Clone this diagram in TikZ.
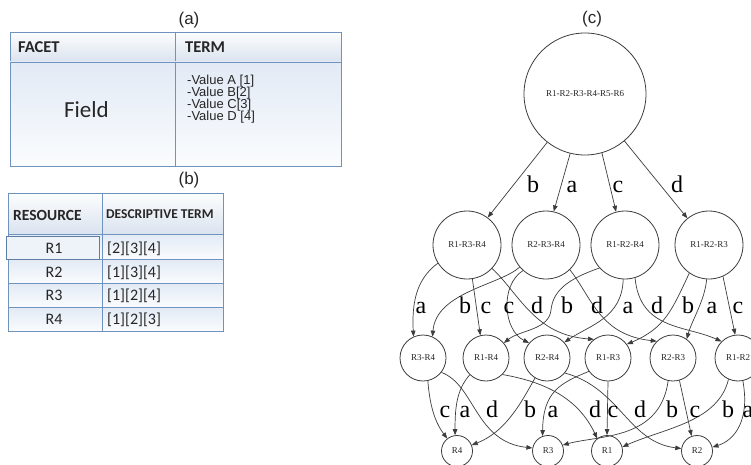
\documentclass[tikz,border=0pt]{standalone}
\usepackage{fontspec}
\setmainfont{Carlito}
\newfontfamily\graphfont{Liberation Serif}
\newfontfamily\listfont{Liberation Sans}
\usetikzlibrary{arrows.meta}
\definecolor{gridblue}{RGB}{112,146,190}
\definecolor{headtop}{RGB}{252,253,254}
\definecolor{headbot}{RGB}{218,227,239}
\definecolor{celltop}{RGB}{226,234,245}
\definecolor{cellbot}{RGB}{250,252,254}
\definecolor{ink}{RGB}{38,38,38}
\definecolor{edgegray}{RGB}{60,60,60}
\begin{document}
\begin{tikzpicture}[x=1pt,y=-1pt,
  stage/.style={circle,draw=edgegray,line width=0.8pt,inner sep=0pt,
    font=\graphfont\fontsize{9}{10}\selectfont,text=ink},
  circbig/.style={stage,minimum size=122pt},
  circmid/.style={stage,minimum size=68pt},
  circsmall/.style={stage,minimum size=46pt},
  circtiny/.style={stage,minimum size=31pt},
  link/.style={draw=edgegray,line width=0.7pt,-{Triangle[length=6pt,width=4.5pt]}},
  tag/.style={font=\graphfont\fontsize{24}{24}\selectfont,text=black,anchor=base,inner sep=0pt},
  caption/.style={font=\listfont\fontsize{17}{17}\selectfont,text=ink,inner sep=0pt},
  headcell/.style={draw=gridblue,line width=0.8pt,top color=headtop,bottom color=headbot},
  bodycell/.style={draw=gridblue,line width=0.8pt,top color=celltop,bottom color=cellbot},
  headtext/.style={font=\bfseries\fontsize{16.5}{18}\selectfont,text=ink,anchor=base west,inner sep=0pt},
  rowtext/.style={font=\fontsize{16}{18}\selectfont,text=ink,anchor=base,inner sep=0pt},
  valtext/.style={font=\listfont\fontsize{13}{13}\selectfont,text=ink,anchor=base west,inner sep=0pt},
]
\useasboundingbox (0,0) rectangle (751,465);
\fill[white] (0,0) rectangle (751,465);

% ---------- (a) facet table ----------
\node[caption] (capA) at (189,20) {(a)};
\path[headcell] (10,32) rectangle (175,62);
\path[headcell] (175,32) rectangle (341,62);
\path[bodycell] (10,62) rectangle (175,166);
\path[bodycell] (175,62) rectangle (341,166);
\node[headtext] (facet) at (18,53) {FACET};
\node[headtext] (term) at (185,53) {TERM};
\node[font=\fontsize{23}{24}\selectfont,text=ink,anchor=base,inner sep=0pt] (field) at (86.5,118) {Field};
\node[valtext] (valA) at (187,84.5) {-Value A [1]};
\node[valtext] (valB) at (187,96.5) {-Value B[2]};
\node[valtext] (valC) at (187,108.5) {-Value C[3]};
\node[valtext] (valD) at (187,121) {-Value D [4]};

% ---------- (b) resource table ----------
\node[caption] (capB) at (189,180) {(b)};
\path[headcell] (8,193) rectangle (102,234);
\path[headcell] (102,193) rectangle (223,234);
\foreach \top/\bot in {234/259,259/283,283/307,307/331}{
  \path[bodycell] (8,\top) rectangle (102,\bot);
  \path[bodycell] (102,\top) rectangle (223,\bot);
}
\draw[draw=gridblue!85!black,line width=0.9pt,fill=celltop!60!white] (6,236) rectangle (99,259);
\node[headtext,font=\bfseries\fontsize{15.5}{17}\selectfont] (resource) at (13,220) {RESOURCE};
\node[headtext,font=\bfseries\fontsize{13.5}{15}\selectfont] (descr) at (106,218.5) {DESCRIPTIVE TERM};
\foreach \r/\t/\b in {R1/{[2][3][4]}/253,R2/{[1][3][4]}/277,R3/{[1][2][4]}/300,R4/{[1][2][3]}/324}{
  \node[rowtext] at (54,\b) {\r};
  \node[rowtext,anchor=base west] at (107,\b) {\t};
}

% ---------- (c) lattice ----------
\node[caption] (capC) at (592,19) {(c)};
\node[circbig] (top) at (585,94) {R1-R2-R3-R4-R5-R6};

\node[circmid] (n134) at (467,245) {R1-R3-R4};
\node[circmid] (n234) at (546,245) {R2-R3-R4};
\node[circmid] (n124) at (625,245) {R1-R2-R4};
\node[circmid] (n123) at (709,245) {R1-R2-R3};

\node[circsmall] (n34) at (423,358) {R3-R4};
\node[circsmall] (n14) at (486,358) {R1-R4};
\node[circsmall] (n24) at (547,358) {R2-R4};
\node[circsmall] (n13) at (608,358) {R1-R3};
\node[circsmall] (n23) at (673,358) {R2-R3};
\node[circsmall] (n12) at (738,358) {R1-R2};

\node[circtiny] (n4) at (457,451) {R4};
\node[circtiny] (n3) at (548,451) {R3};
\node[circtiny] (n1) at (607,451) {R1};
\node[circtiny] (n2) at (697,451) {R2};

% top level
\draw[link] (top.232) -- (n134.53);
\draw[link] (top.256) -- (n234.77);
\draw[link] (top.286) -- (n124.105);
\draw[link] (top.310) -- (n123.129);
\node[tag] at (533,192) {b};
\node[tag] at (572,192) {a};
\node[tag] at (618,192) {c};
\node[tag] at (677,192) {d};

% three-resource level to pairs
\draw[link] (n134.212) .. controls (415,280) and (412,305) .. (n34.114);
\draw[link] (n234.220) .. controls (500,285) and (436,292) .. (n34.66);
\draw[link] (n134.279) -- (n14.104);
\draw[link] (n234.228) .. controls (500,285) and (503,330) .. (n24.140);
\draw[link] (n134.317) .. controls (520,295) and (535,335) .. (n13.127);
\draw[link] (n124.222) .. controls (565,280) and (553,292) .. (551,310)
                       .. controls (549,330) and (520,330) .. (n14.40);
\draw[link] (n234.314) .. controls (592,298) and (600,335) .. (n23.134);
\draw[link] (n124.267) .. controls (622,318) and (590,325) .. (n24.42);
\draw[link] (n124.287) .. controls (640,330) and (685,325) .. (n12.135);
\draw[link] (n123.235) .. controls (672,310) and (665,328) .. (n13.36);
\draw[link] (n123.266) .. controls (705,300) and (692,320) .. (n23.54);
\draw[link] (n123.294) -- (n12.97);
\foreach \l/\x in {a/421,b/465,c/486,c/509,d/537,b/567,d/597,a/628,d/657,b/688,a/712,c/738}{
  \node[tag] at (\x,313) {\l};
}

% pairs to single resources
\draw[link] (n34.282) .. controls (430,410) and (437,425) .. (n4.128);
\draw[link] (n14.226) .. controls (456,390) and (455,410) .. (n4.97);
\draw[link] (n34.322) .. controls (475,385) and (475,442) .. (n3.169);
\draw[link] (n24.239) .. controls (520,405) and (505,432) .. (n4.22);
\draw[link] (n13.215) .. controls (560,383) and (543,392) .. (n3.110);
\draw[link] (n14.315) .. controls (545,382) and (578,398) .. (n1.128);
\draw[link] (n13.270) -- (n1.90);
\draw[link] (n24.320) .. controls (620,388) and (628,442) .. (n2.171);
\draw[link] (n23.258) .. controls (660,440) and (600,435) .. (n3.22);
\draw[link] (n23.286) -- (n2.110);
\draw[link] (n12.246) .. controls (718,422) and (665,428) .. (n1.15);
\draw[link] (n12.282) .. controls (750,420) and (735,440) .. (n2.14);
\foreach \l/\x in {c/445,a/465,d/492,b/530,a/553,d/595,c/613,d/640,b/672,c/695,b/728,a/748}{
  \node[tag] at (\x,417) {\l};
}
\end{tikzpicture}
\end{document}
